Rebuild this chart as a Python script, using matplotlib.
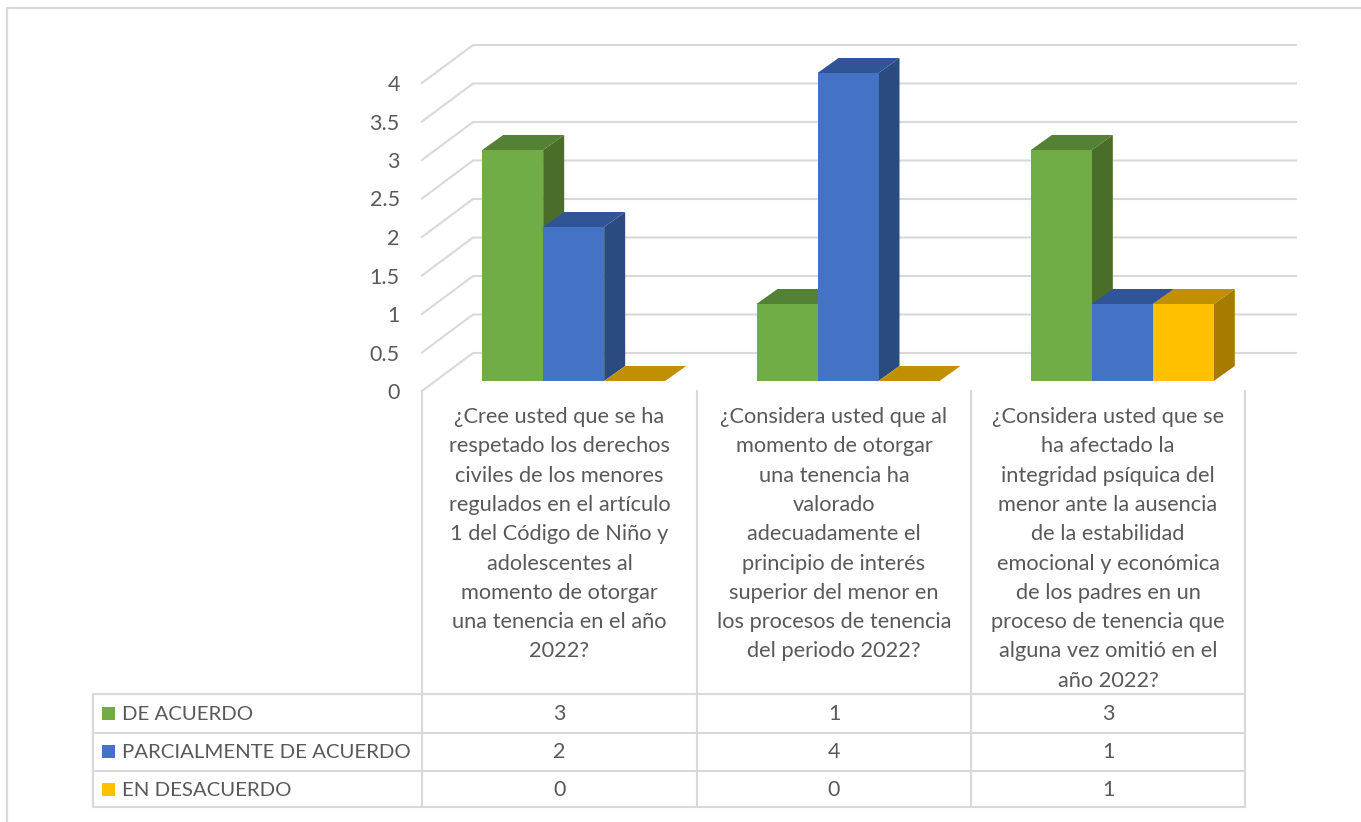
import matplotlib
matplotlib.use('Agg')
import matplotlib.pyplot as plt
from matplotlib.patches import Polygon, Rectangle

plt.rcParams['font.family'] = ['Lato', 'DejaVu Sans']

W, H = 1361, 822
TEXT = '#595959'
GRID = '#D9D9D9'

series_names = ['DE ACUERDO', 'PARCIALMENTE DE ACUERDO', 'EN DESACUERDO']
de_acuerdo = [3, 1, 3]
parcialmente = [2, 4, 1]
en_desacuerdo = [0, 0, 1]
series_values = [de_acuerdo, parcialmente, en_desacuerdo]
y_ticks = [0, 0.5, 1, 1.5, 2, 2.5, 3, 3.5, 4]
y_labels = ['0', '0.5', '1', '1.5', '2', '2.5', '3', '3.5', '4']

question_1 = ['¿Cree usted que se ha', 'respetado los derechos', 'civiles de los menores',
              'regulados en el artículo', '1 del Código de Niño y', 'adolescentes al',
              'momento de otorgar', 'una tenencia en el año', '2022?']
question_2 = ['¿Considera usted que al', 'momento de otorgar', 'una tenencia ha', 'valorado',
              'adecuadamente el', 'principio de interés', 'superior del menor en',
              'los procesos de tenencia', 'del periodo 2022?']
question_3 = ['¿Considera usted que se', 'ha afectado la', 'integridad psíquica del',
              'menor ante la ausencia', 'de la estabilidad', 'emocional y económica',
              'de los padres en un', 'proceso de tenencia que', 'alguna vez omitió en el',
              'año 2022?']
questions = [question_1, question_2, question_3]

front_colors = ['#70AD47', '#4472C4', '#FFC000']
top_colors = ['#548235', '#2F5597', '#BF9000']
side_colors = ['#4A6E2A', '#2A4A80', '#A67C00']

fig = plt.figure(figsize=(W / 100, H / 100), dpi=100, facecolor='white')

# pixel overlay for the frame and the data table
bg = fig.add_axes([0, 0, 1, 1])
bg.set_xlim(0, W)
bg.set_ylim(H, 0)
bg.axis('off')

bg.plot([7, 7, W], [H, 8, 8], color=GRID, lw=1.6)

col_x = [422, 697, 971, 1245]
row_y = [694, 733, 771, 807]
for y in row_y:
    bg.plot([93, 1245], [y, y], color=GRID, lw=1.5)
bg.plot([93, 93], [694, 807], color=GRID, lw=1.5)
for x in col_x:
    bg.plot([x, x], [391, 807], color=GRID, lw=1.5)

row_mid = [713, 751, 789]
for name, vals, color, y in zip(series_names, series_values, front_colors, row_mid):
    bg.add_patch(Rectangle((102, y - 6.5), 13, 13, color=color, lw=0))
    bg.text(122, y + 1, name, color=TEXT, fontsize=14.7, va='center', ha='left')
    for i, v in enumerate(vals):
        bg.text((col_x[i] + col_x[i + 1]) / 2, y + 1, str(v), color=TEXT, fontsize=15.5,
                va='center', ha='center')

for i, lines in enumerate(questions):
    for j, line in enumerate(lines):
        bg.text((col_x[i] + col_x[i + 1]) / 2, 417 + 29.3 * j, line, color=TEXT,
                fontsize=15.7, va='center', ha='center')

# chart axes sit on the front plane of the 3d box
ax = fig.add_axes([422 / W, 1 - 391 / H, 823 / W, 308 / H])
ax.patch.set_alpha(0)
ax.set_xlim(-0.5, 2.5)
ax.set_ylim(0, 4)
for s in ax.spines.values():
    s.set_visible(False)
ax.set_xticks([])
ax.set_yticks(y_ticks)
ax.set_yticklabels(y_labels, color=TEXT, fontsize=15.5)
ax.tick_params(axis='y', length=0, pad=16)

px_x = 3 / 823
px_y = 4 / 308

# walls
wall_dx = 51 * px_x
wall_dy = 38 * px_y
for v in y_ticks:
    ax.plot([-0.5, -0.5 + wall_dx, 2.5 + 51 * px_x], [v, v + wall_dy, v + wall_dy],
            color=GRID, lw=1.5, clip_on=False, zorder=1)

# bars
bar_w = 61 * px_x
depth_x = 21 * px_x
depth_y = 15 * px_y
base = 10 * px_y
offsets = [-77 * px_x, -16 * px_x, 45 * px_x]

for s, vals in enumerate(series_values):
    for i, v in enumerate(vals):
        left = i + offsets[s]
        right = left + bar_w
        top = base + v
        ax.add_patch(Polygon([(right, base), (right + depth_x, base + depth_y),
                              (right + depth_x, top + depth_y), (right, top)],
                             color=side_colors[s], lw=0, clip_on=False, zorder=2 + s))
        ax.add_patch(Polygon([(left, top), (left + depth_x, top + depth_y),
                              (right + depth_x, top + depth_y), (right, top)],
                             color=top_colors[s], lw=0, clip_on=False, zorder=2 + s))
        if v > 0:
            ax.bar(left, v, width=bar_w, bottom=base, align='edge', color=front_colors[s],
                   lw=0, clip_on=False, zorder=2.5 + s)

fig.savefig('out.png', dpi=100)
